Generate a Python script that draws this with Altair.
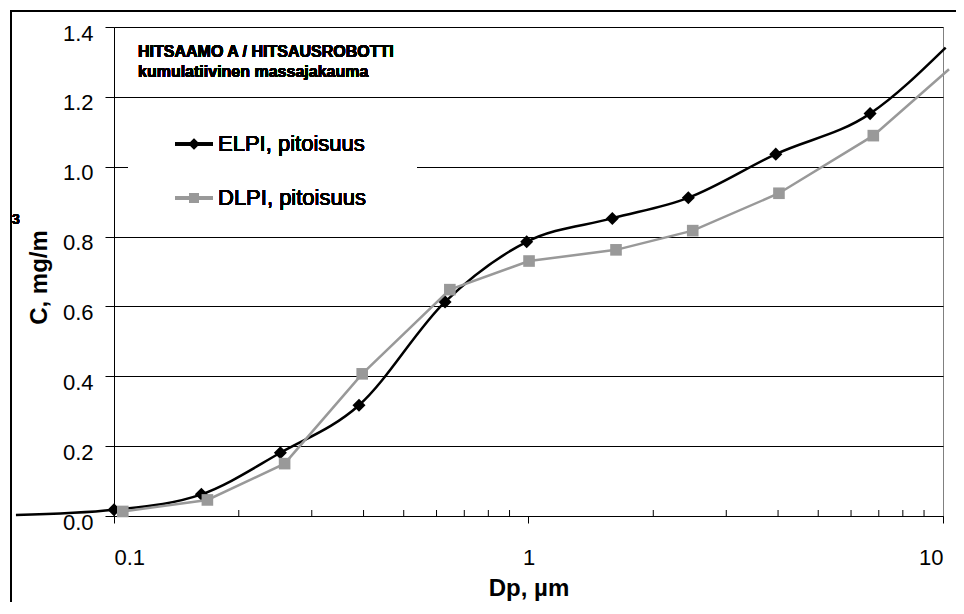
import altair as alt
import pandas as pd

# ---- data ----
elpi_dp = [0.058, 0.1, 0.1625, 0.252, 0.390, 0.629, 0.990, 1.593, 2.43, 3.95, 6.67, 10.15]
elpi_c = [0.003, 0.018, 0.062, 0.181, 0.317, 0.613, 0.785, 0.852, 0.911, 1.036, 1.152, 1.341]
dlpi_dp = [0.105, 0.168, 0.258, 0.397, 0.646, 1.003, 1.626, 2.49, 4.02, 6.79, 10.34]
dlpi_c = [0.013, 0.046, 0.150, 0.407, 0.648, 0.730, 0.762, 0.817, 0.924, 1.089, 1.279]
x_ticks = [0.1, 1, 10]
x_minor = [0.2, 0.3, 0.4, 0.5, 0.6, 0.7, 0.8, 0.9, 2, 3, 4, 5, 6, 7, 8, 9]
y_ticks = [0.0, 0.2, 0.4, 0.6, 0.8, 1.0, 1.2, 1.4]
series_names = ["ELPI, pitoisuus", "DLPI, pitoisuus"]
title_lines = ["HITSAAMO A / HITSAUSROBOTTI", "kumulatiivinen massajakauma"]

FONT = "Liberation Sans"
W, H = 829, 489

elpi = pd.DataFrame({"dp": elpi_dp, "c": elpi_c})
dlpi = pd.DataFrame({"dp": dlpi_dp, "c": dlpi_c})
minor = pd.DataFrame({"dp": x_minor})

X = alt.X(
    "dp:Q",
    scale=alt.Scale(type="log", domain=[0.1, 10], nice=False),
    axis=alt.Axis(
        values=x_ticks, format="~g", grid=False, tickSize=7, labelPadding=24,
        labelBaseline="top", labelFontSize=22, labelFont=FONT, labelColor="black",
        title="Dp, µm", titleFontSize=24, titleFont=FONT, titleFontWeight="bold",
        titleX=414.5, titleY=79, titleAlign="center", titleBaseline="alphabetic",
        titleColor="black", domainColor="black", tickColor="black",
    ),
)
Y = alt.Y(
    "c:Q",
    scale=alt.Scale(domain=[0, 1.4], nice=False),
    axis=alt.Axis(
        values=y_ticks, format=".1f", grid=True, gridColor="black", gridWidth=1,
        tickSize=9, labelPadding=12, labelFontSize=22, labelFont=FONT,
        labelColor="black", labelOffset=6,
        title="C, mg/m", titleFontSize=24, titleFont=FONT, titleFontWeight="bold",
        titleX=-68, titleY=250, titleAngle=270, titleAlign="center",
        titleBaseline="alphabetic", titleColor="black",
        domainColor="black", tickColor="black",
    ),
)

GRAY = "#999999"

legend_bg = alt.Chart(elpi).mark_rect(fill="white", stroke=None).encode(
    x=alt.value(14), x2=alt.value(303), y=alt.value(88), y2=alt.value(195)
)

minor_ticks = alt.Chart(minor).mark_rule(color="black", strokeWidth=1).encode(
    x=X, y=alt.value(H - 6), y2=alt.value(H)
)

elpi_line = alt.Chart(elpi).mark_line(
    color="black", strokeWidth=2.5, interpolate="monotone", clip=False
).encode(x=X, y=Y)
elpi_pts = alt.Chart(elpi).transform_filter(
    "datum.dp >= 0.0999 && datum.dp <= 10"
).mark_point(shape="diamond", filled=True, color="black", size=170, opacity=1).encode(x=X, y=Y)

dlpi_line = alt.Chart(dlpi).mark_line(
    color=GRAY, strokeWidth=2.5, clip=False
).encode(x=X, y=Y)
dlpi_pts = alt.Chart(dlpi).transform_filter(
    "datum.dp >= 0.0999 && datum.dp <= 10"
).mark_point(shape="square", filled=True, color=GRAY, size=135, opacity=1).encode(x=X, y=Y)

# legend (manual)
def legend_entry(name, ypos, color, shape, size):
    seg = alt.Chart(elpi).mark_rule(color=color, strokeWidth=2.5).encode(
        x=alt.value(61), x2=alt.value(99), y=alt.value(ypos)
    )
    sym = alt.Chart(elpi).mark_point(
        shape=shape, filled=True, color=color, size=size, opacity=1
    ).encode(x=alt.value(80), y=alt.value(ypos))
    txt = alt.Chart(elpi).mark_text(
        text=name, align="left", baseline="middle", font=FONT, fontSize=22, color="black"
    ).encode(x=alt.value(104), y=alt.value(ypos))
    return seg + sym + txt

leg1 = legend_entry(series_names[0], 117, "black", "diamond", 110)
leg2 = legend_entry(series_names[1], 171, GRAY, "square", 100)

t1 = alt.Chart(elpi).mark_text(
    text=title_lines[0], align="left", baseline="alphabetic", font=FONT,
    fontSize=16, fontWeight="bold", color="black"
).encode(x=alt.value(24), y=alt.value(30))
t2 = alt.Chart(elpi).mark_text(
    text=title_lines[1], align="left", baseline="alphabetic", font=FONT,
    fontSize=16, fontWeight="bold", color="black"
).encode(x=alt.value(24), y=alt.value(50))

sup3 = alt.Chart(elpi).mark_text(
    text="3", align="center", baseline="middle", font=FONT,
    fontSize=14, fontWeight="bold", color="black"
).encode(x=alt.value(-98), y=alt.value(193))

frame_left = alt.Chart(elpi).mark_rule(color="black", strokeWidth=2).encode(
    x=alt.value(-103), y=alt.value(-16), y2=alt.value(700)
)
frame_top = alt.Chart(elpi).mark_rule(color="black", strokeWidth=2).encode(
    x=alt.value(-104), x2=alt.value(1000), y=alt.value(-16)
)

chart = alt.layer(
    legend_bg, minor_ticks, elpi_line, elpi_pts, dlpi_line, dlpi_pts,
    leg1, leg2, t1, t2, sup3, frame_left, frame_top,
).properties(
    width=W, height=H,
    autosize="none",
    padding={"left": 106, "top": 19, "right": 13, "bottom": 86},
    background="white",
).configure_view(stroke="#808080", strokeWidth=1)

chart.save("out.html", embed_options={"renderer": "svg", "actions": False})
